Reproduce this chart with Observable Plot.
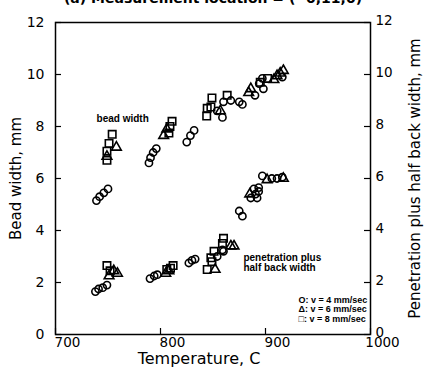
<!DOCTYPE html>
<html><head><meta charset="utf-8">
<script src="https://cdn.jsdelivr.net/npm/d3@7"></script>
<script src="https://cdn.jsdelivr.net/npm/@observablehq/plot@0.6"></script>
<style>body{margin:0;background:#fff} svg{display:block}</style>
</head><body><div id="chart"></div>
<script>
// Tick values
const xTicks = [700, 800, 900, 1000];
const yTicks = [0, 2, 4, 6, 8, 10, 12];

// Texts
const title = "(a) Measurement location = ( -0,11,0)";
const xTitle = "Temperature, C";
const yTitleLeft = "Bead width, mm";
const yTitleRight = "Penetration plus half back width, mm";
const legendLines = ["O: v = 4 mm/sec", "\u0394: v = 6 mm/sec", "\u25A1: v = 8 mm/sec"];

// Bead width, v = 4 mm/sec (circles)
const bead4T = [739, 742, 746, 750, 789, 790.5, 793, 796, 825, 828.5, 832, 854, 859, 860, 867, 875, 878, 890, 894, 897, 898, 916];
const bead4W = [5.15, 5.3, 5.45, 5.6, 6.6, 6.8, 7.0, 7.15, 7.4, 7.65, 7.85, 8.6, 8.35, 8.95, 9.0, 8.95, 8.85, 9.2, 9.65, 9.85, 9.45, 9.9];
// Bead width, v = 6 mm/sec (triangles)
const bead6T = [758, 749, 803, 806, 857, 884, 886, 908, 911, 914, 917];
const bead6W = [7.2, 6.85, 7.65, 7.9, 8.6, 9.3, 9.45, 9.8, 9.95, 10.05, 10.15];
// Bead width, v = 8 mm/sec (squares)
const bead8T = [754, 751, 749, 749, 811, 809, 808, 849, 844.5, 844, 863.5, 848, 902, 895];
const bead8W = [7.7, 7.35, 7.05, 6.7, 8.2, 8.0, 7.75, 9.1, 8.7, 8.4, 9.2, 8.75, 9.85, 9.7];

// Penetration plus half back width, v = 4 mm/sec (circles)
const pen4T = [738, 741, 745, 749, 790, 794, 797, 827, 830, 833, 854, 859, 860, 875, 878, 886, 890.5, 893.5, 892, 889, 893.5, 897, 906, 911, 916];
const pen4V = [1.65, 1.75, 1.8, 1.9, 2.15, 2.25, 2.3, 2.75, 2.85, 2.9, 3.0, 3.25, 3.2, 4.75, 4.55, 5.25, 5.4, 5.5, 5.25, 5.6, 5.65, 6.1, 6.0, 6.0, 6.05];
// v = 6 mm/sec (triangles)
const pen6T = [759, 755.5, 751, 805, 808, 852, 867, 870, 885, 901.5, 917];
const pen6V = [2.35, 2.45, 2.25, 2.35, 2.45, 2.5, 3.4, 3.4, 5.4, 5.95, 6.0];
// v = 8 mm/sec (squares)
const pen8T = [749, 752, 809.5, 812, 806, 844.5, 849, 851, 860, 859, 848];
const pen8V = [2.65, 2.45, 2.55, 2.65, 2.5, 2.5, 2.8, 3.2, 3.7, 3.5, 2.95];

// Annotation texts and their data positions
const noteBead = {text: "bead width", t: 764, v: 8.3};
const notePen = {text: "penetration plus\nhalf back width", t: 879, v: 2.75};

const rows = (T, V) => T.map((t, i) => ({t, v: V[i]}));
const circles = [...rows(bead4T, bead4W), ...rows(pen4T, pen4V)];
const triangles = [...rows(bead6T, bead6W), ...rows(pen6T, pen6V)];
const squares = [...rows(bead8T, bead8W), ...rows(pen8T, pen8V)];

const dotStyle = {x: "t", y: "v", stroke: "black", fill: "none", strokeWidth: 1.6};

const chart = Plot.plot({
  width: 424, height: 374,
  marginLeft: 55, marginRight: 54, marginTop: 22, marginBottom: 40,
  style: {fontFamily: "DejaVu Sans, sans-serif", background: "white", color: "black", overflow: "visible"},
  x: {domain: [700, 1000]},
  y: {domain: [0, 12]},
  marks: [
    Plot.frame({stroke: "black", strokeWidth: 1.5}),
    Plot.tickY(yTicks, {y: d => d, insetRight: 309, stroke: "black", strokeWidth: 1.2}),
    Plot.tickY(yTicks, {y: d => d, insetLeft: 309, stroke: "black", strokeWidth: 1.2}),
    Plot.tickX(xTicks, {x: d => d, insetTop: 306, stroke: "black", strokeWidth: 1.2}),
    Plot.axisX(xTicks, {tickSize: 0, tickPadding: 3, fontSize: 13.5, dx: 12, tickFormat: d => String(d), label: null}),
    Plot.axisY(yTicks, {anchor: "left", tickSize: 0, tickPadding: 11, fontSize: 14, label: null}),
    Plot.axisY(yTicks, {anchor: "right", tickSize: 0, tickPadding: 5, fontSize: 13.5, dy: -2, label: null}),
    Plot.text([yTitleLeft], {text: d => d, frameAnchor: "left", textAnchor: "middle", dx: -39, rotate: -90, fontSize: 15}),
    Plot.text([yTitleRight], {text: d => d, frameAnchor: "right", textAnchor: "middle", dx: 45, rotate: -90, fontSize: 15}),
    Plot.text([xTitle], {text: d => d, frameAnchor: "bottom", dx: -14, dy: 29, fontSize: 16}),
    Plot.text([title], {text: d => d, frameAnchor: "top", dy: -20, lineAnchor: "bottom", fontSize: 14, fontWeight: "bold"}),
    Plot.text([noteBead], {x: "t", y: "v", text: "text", fontSize: 10, fontWeight: "bold", fontFamily: "Liberation Sans"}),
    Plot.text([notePen], {x: "t", y: "v", text: "text", textAnchor: "start", fontSize: 10, lineHeight: 1.0, fontWeight: "bold", fontFamily: "Liberation Sans"}),
    Plot.text([legendLines.join("\n")], {text: d => d, frameAnchor: "bottom-right", textAnchor: "start", dx: -72, dy: -13, lineAnchor: "bottom", lineHeight: 1.05, fontSize: 9, fontWeight: "bold", fontFamily: "Liberation Sans"}),
    Plot.dot(circles, {...dotStyle, symbol: "circle", r: 3.6}),
    Plot.dot(triangles, {...dotStyle, symbol: "triangle", r: 3.6}),
    Plot.dot(squares, {...dotStyle, symbol: "square", r: 4.2})
  ]
});
document.getElementById("chart").appendChild(chart);
</script>
</body></html>
